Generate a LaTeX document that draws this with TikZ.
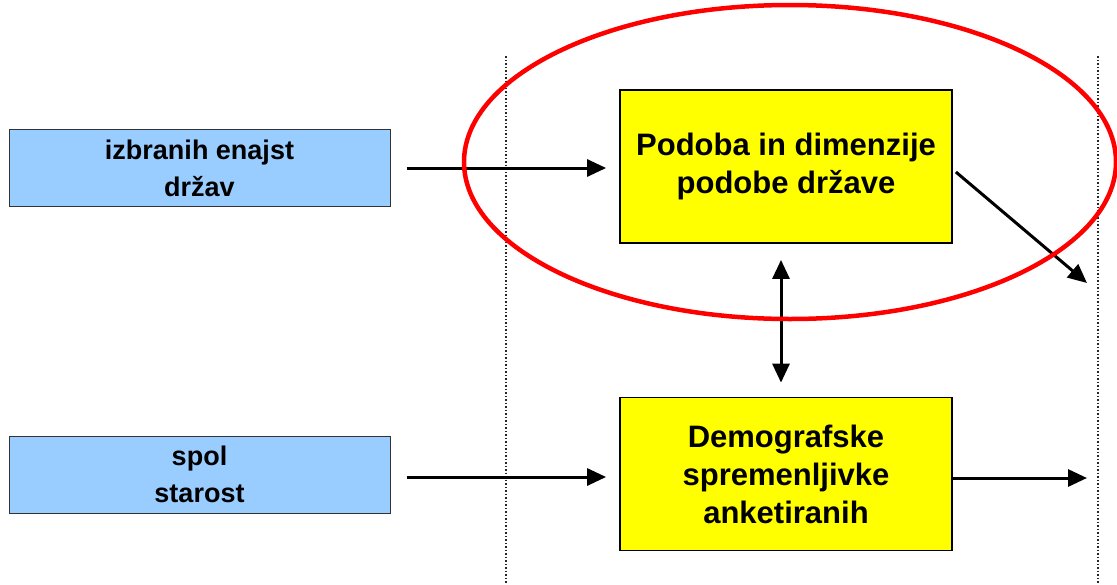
\documentclass[tikz,border=0pt]{standalone}
\usepackage{fontspec}
\setmainfont{Liberation Sans}
\usetikzlibrary{arrows.meta}
\begin{document}
\begin{tikzpicture}[x=1pt,y=-1pt,
  inbox/.style={draw=black!80,fill={rgb,255:red,153;green,204;blue,255},line width=1pt,
    minimum width=381pt,minimum height=77pt,align=center,font=\bfseries\fontsize{27}{37}\selectfont,inner sep=0pt},
  corebox/.style={draw=black,fill={rgb,255:red,255;green,255;blue,0},line width=1.8pt,
    minimum width=332pt,minimum height=153pt,align=center,font=\bfseries\fontsize{31}{38}\selectfont,inner sep=0pt},
  link/.style={line width=3pt,-{Triangle[length=19pt,width=17pt]}},
  twoway/.style={line width=3pt,{Triangle[length=19pt,width=17pt]}-{Triangle[length=19pt,width=17pt]}},
  divider/.style={dash pattern=on 1.5pt off 2pt,line width=1.2pt,black!85}]
\useasboundingbox (0,0) rectangle (1117,584);
% dotted column dividers
\draw[divider] (506,56) -- (506,584);
\draw[divider] (1098,56) -- (1098,584);
% input boxes
\node[inbox] (countries) at (199.5,168) {izbranih enajst\\držav};
\node[inbox] (demog) at (199.5,474.5) {spol\\starost};
% central boxes
\node[corebox] (image) at (786,166.5) {Podoba in dimenzije\\podobe države};
\node[corebox] (resp) at (786,474) {Demografske\\spremenljivke\\anketiranih};
% outgoing free ends
\coordinate (outA) at (1087,283);
\coordinate (outB) at (1087,478);
% connectors (yshift is in page units, so negative moves down)
\coordinate (c0) at ([xshift=16pt]countries.east);
\draw[link] (c0) -- ([xshift=-13pt]c0 -| image.west);
\coordinate (d0) at ([xshift=16pt,yshift=-2.5pt]demog.east);
\draw[link] (d0) -- ([xshift=-13pt]d0 -| resp.west);
\draw[link] ([xshift=3pt,yshift=-5.5pt]image.east) -- (outA);
\draw[link] (resp.east |- outB) -- (outB);
\draw[twoway] ([xshift=-5pt,yshift=-16pt]image.south) -- ([xshift=-5pt,yshift=14pt]resp.north);
% highlight ellipse
\draw[red,line width=4.5pt] (790,162) ellipse [x radius=326,y radius=157];
\end{tikzpicture}
\end{document}
